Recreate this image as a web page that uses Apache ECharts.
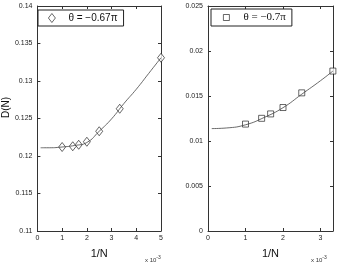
<!DOCTYPE html>
<html><head><meta charset="utf-8">
<script src="https://cdn.jsdelivr.net/npm/echarts@6/dist/echarts.min.js"></script>
<style>html,body{margin:0;padding:0;background:#fff}#c{width:339px;height:264px}</style>
</head><body><div id="c"></div>
<script>
// Left panel: theta = -0.67 pi
const xLeft = [1, 1.43, 1.67, 2, 2.5, 3.33, 5];
const dLeft = [0.1212, 0.1213, 0.1215, 0.1219, 0.1233, 0.1263, 0.1331];
const fitXLeft = [0.13, 0.5, 1, 1.5, 2, 2.5, 3, 3.5, 4, 4.5, 5];
const fitLeft = [0.1211, 0.1211, 0.1212, 0.1214, 0.1218, 0.1233, 0.12495, 0.1270, 0.1289, 0.1310, 0.1331];
// Right panel: theta = -0.7 pi
const xRight = [1, 1.43, 1.67, 2, 2.5, 3.33];
const dRight = [0.01188, 0.01252, 0.01301, 0.01372, 0.01535, 0.01777];
const fitXRight = [0.1, 0.5, 1, 1.5, 2, 2.5, 3, 3.33];
const fitRight = [0.01138, 0.01145, 0.0118, 0.01262, 0.0137, 0.0152, 0.0167, 0.01777];
const labelLeft = 'θ = −0.67π';
const labelRight = 'θ = −0.7π';
const xTitle = '1/N';
const yTitle = 'D(N)';

const zip = (a, b) => a.map((v, i) => [v, b[i]]);
const axisCol = '#333';
const font = 'Liberation Sans, Arial, sans-serif';
const fmt = v => String(+(+v).toFixed(4));
const hollow = {color: '#fff', borderColor: '#111', borderWidth: 0.8};

function xAx(grid, max, top) {
  return {
    type: 'value', gridIndex: grid, min: 0, max: max, interval: 1,
    position: top ? 'top' : 'bottom',
    axisLine: {show: true, onZero: false, lineStyle: {color: axisCol, width: 1}},
    axisTick: {show: true, inside: true, length: 3, lineStyle: {color: axisCol}},
    axisLabel: {show: !top, fontSize: 7, color: '#222', fontFamily: font, margin: 4, showMaxLabel: max === 5, formatter: fmt},
    splitLine: {show: false},
    name: top ? '' : xTitle, nameLocation: 'middle', nameGap: 17,
    nameTextStyle: {fontSize: 11, color: '#111', fontFamily: font}
  };
}
function yAx(grid, min, max, right, name) {
  return {
    type: 'value', gridIndex: grid, min: min, max: max, interval: 0.005,
    position: right ? 'right' : 'left',
    axisLine: {show: true, onZero: false, lineStyle: {color: axisCol, width: 1}},
    axisTick: {show: true, inside: true, length: 3, lineStyle: {color: axisCol}},
    axisLabel: {show: !right, fontSize: 7, color: '#222', fontFamily: font, margin: 5, formatter: fmt},
    splitLine: {show: false},
    name: name || '', nameLocation: 'middle', nameGap: 24, nameRotate: 90,
    nameTextStyle: {fontSize: 10, color: '#111', fontFamily: font, padding: [0, 0, 0, 22]}
  };
}

const chart = echarts.init(document.getElementById('c'), null, {renderer: 'canvas'});
chart.setOption({
  animation: false,
  backgroundColor: '#fff',
  grid: [
    {left: 35, right: 178, top: 6, bottom: 24},
    {left: 208, right: 6, top: 6, bottom: 24}
  ],
  xAxis: [xAx(0, 5, false), xAx(0, 5, true), xAx(1, 3.333, false), xAx(1, 3.333, true)],
  yAxis: [yAx(0, 0.11, 0.14, false, yTitle), yAx(0, 0.11, 0.14, true), yAx(1, 0, 0.025, false), yAx(1, 0, 0.025, true)],
  legend: [
    {
      left: 38, top: 10, padding: [3, 6, 3, 10],
      borderColor: '#222', borderWidth: 1, itemWidth: 7, itemHeight: 9,
      itemStyle: hollow,
      data: [{name: labelLeft, icon: 'diamond', itemStyle: hollow}],
      textStyle: {fontSize: 10, color: '#111', fontFamily: font, padding: [0, 0, 0, 8]}
    },
    {
      left: 211, top: 9, padding: [3, 6, 3, 12],
      borderColor: '#222', borderWidth: 1, itemWidth: 6, itemHeight: 6,
      itemStyle: hollow,
      data: [{name: labelRight, icon: 'rect', itemStyle: hollow}],
      textStyle: {fontSize: 11, color: '#111', fontFamily: 'Liberation Serif, Times New Roman, serif', padding: [0, 0, 0, 9]}
    }
  ],
  graphic: [
    {type: 'text', left: 145, top: 255, style: {text: '{a|x 10}{b|-3}', rich: {a: {fontSize: 6, fill: '#333', fontFamily: font}, b: {fontSize: 5, fill: '#333', fontFamily: font, verticalAlign: 'top', padding: [0, 0, 5, 0]}}}},
    {type: 'text', left: 311, top: 255, style: {text: '{a|x 10}{b|-3}', rich: {a: {fontSize: 6, fill: '#333', fontFamily: font}, b: {fontSize: 5, fill: '#333', fontFamily: font, verticalAlign: 'top', padding: [0, 0, 5, 0]}}}}
  ],
  series: [
    {type: 'line', xAxisIndex: 0, yAxisIndex: 0, data: zip(fitXLeft, fitLeft), smooth: true, showSymbol: false, silent: true,
     lineStyle: {color: '#444', width: 0.8}},
    {type: 'scatter', name: labelLeft, xAxisIndex: 0, yAxisIndex: 0, data: zip(xLeft, dLeft), symbol: 'diamond', symbolSize: [7, 9],
     itemStyle: hollow},
    {type: 'line', xAxisIndex: 2, yAxisIndex: 2, data: zip(fitXRight, fitRight), smooth: true, showSymbol: false, silent: true,
     lineStyle: {color: '#444', width: 0.8}},
    {type: 'scatter', name: labelRight, xAxisIndex: 2, yAxisIndex: 2, data: zip(xRight, dRight), symbol: 'rect', symbolSize: 6,
     itemStyle: hollow}
  ]
});
</script>
</body></html>
